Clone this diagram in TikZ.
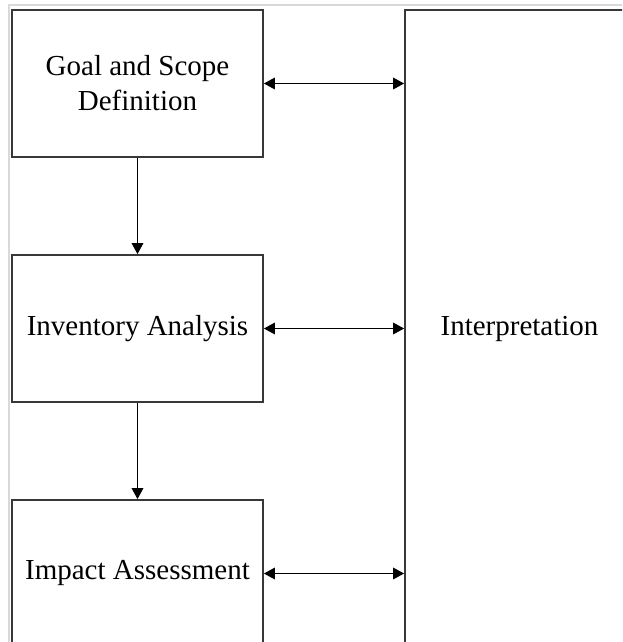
\documentclass[tikz,border=0pt]{standalone}
\usepackage{fontspec}
\setmainfont{Liberation Serif}
\usetikzlibrary{arrows.meta}
\begin{document}
\begin{tikzpicture}[x=1pt,y=1pt,
  stage/.style={draw=black!78, line width=1.7pt, fill=white,
    minimum width=251pt, minimum height=147pt, inner sep=0pt,
    align=center, font=\fontsize{29}{35}\selectfont},
  tip/.style={Triangle[length=11pt,width=11.5pt]},
  flow/.style={line width=1.6pt, -{Triangle[length=11pt,width=11.5pt]}},
  link/.style={line width=1.6pt, {Triangle[length=11pt,width=11.5pt]}-{Triangle[length=11pt,width=11.5pt]}}]
\useasboundingbox (0,0) rectangle (622,-642);
\clip (0,0) rectangle (622,-642);
\fill[white] (0,0) rectangle (622,-642);
% faint page frame
\draw[black!15, line width=2pt] (9,-650) -- (9,-5.5) -- (630,-5.5);
% stages
\node[stage] (goal) at (137.5,-83.5) {Goal and Scope\\Definition};
\node[stage] (inv) at (137.5,-328.5) {Inventory Analysis};
\node[stage] (imp) at (137.5,-573.5) {Impact Assessment};
\node[stage, minimum width=229pt, minimum height=637pt] (interp) at (519.5,-328.5) {Interpretation};
% sequence arrows
\draw[flow] (goal.south) -- (inv.north);
\draw[flow] (inv.south) -- (imp.north);
% links to interpretation
\draw[link] (goal.east) -- (goal.east -| interp.west);
\draw[link] (inv.east) -- (inv.east -| interp.west);
\draw[link] (imp.east) -- (imp.east -| interp.west);
\end{tikzpicture}
\end{document}
